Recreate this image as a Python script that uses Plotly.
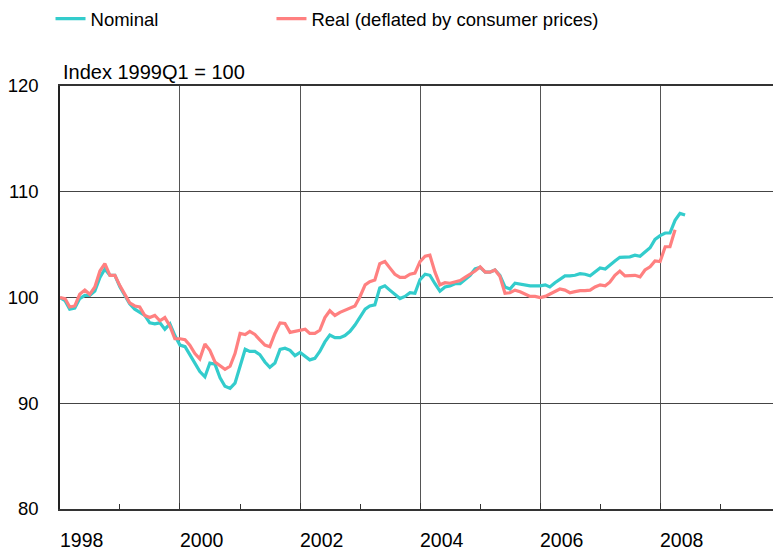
import plotly.graph_objects as go
import pandas as pd

# Monthly data, starting January 1998
start_month = "1998-01-01"

nominal = [
    100.0, 99.7, 98.9, 99.0, 99.9, 100.2, 100.2, 100.6, 101.9, 102.7, 102.1, 102.1,
    101.0, 100.2, 99.4, 98.9, 98.6, 98.3, 97.6, 97.5, 97.6, 97.0, 97.5, 96.4,
    95.5, 95.35, 94.6, 93.8, 93.0, 92.5, 93.8, 93.7, 92.4, 91.6, 91.4, 91.9,
    93.6, 95.1, 94.9, 94.9, 94.6, 93.9, 93.4, 93.8, 95.1, 95.2, 95.0, 94.5,
    94.8, 94.4, 94.1, 94.25, 94.9, 95.8, 96.45, 96.2, 96.2, 96.4, 96.8, 97.4,
    98.2, 98.9, 99.2, 99.3, 100.9, 101.1, 100.7, 100.3, 99.9, 100.1, 100.45, 100.4,
    101.7, 102.2, 102.1, 101.3, 100.6, 101.0, 101.1, 101.3, 101.3, 101.7, 102.1, 102.7,
    102.85, 102.4, 102.4, 102.6, 102.1, 101.0, 100.8, 101.35, 101.25, 101.2, 101.1, 101.1,
    101.1, 101.2, 101.0, 101.4, 101.75, 102.05, 102.05, 102.1, 102.25, 102.2, 102.05, 102.4,
    102.8, 102.7, 103.1, 103.45, 103.8, 103.8, 103.85, 104.0, 103.9, 104.3, 104.7, 105.5,
    105.85, 106.1, 106.1, 107.3, 107.95, 107.8,
]

real = [
    100.0, 99.9, 99.1, 99.2, 100.3, 100.7, 100.3, 101.0, 102.5, 103.2, 102.1, 102.1,
    101.1, 100.2, 99.5, 99.2, 99.1, 98.3, 98.1, 98.3, 97.8, 98.1, 97.3, 96.1,
    96.1, 96.0, 95.5, 94.7, 94.2, 95.6, 95.0, 93.9, 93.5, 93.2, 93.5, 94.7,
    96.6, 96.5, 96.8, 96.5, 96.0, 95.5, 95.35, 96.6, 97.6, 97.55, 96.7, 96.8,
    96.9, 97.0, 96.6, 96.6, 96.9, 98.1, 98.75, 98.3, 98.6, 98.8, 99.0, 99.2,
    100.1, 101.2, 101.5, 101.65, 103.2, 103.4, 102.8, 102.2, 101.9, 101.9, 102.2, 102.3,
    103.4, 103.9, 104.0, 102.4, 101.2, 101.4, 101.35, 101.5, 101.6, 101.9, 102.2, 102.5,
    102.9, 102.4, 102.4, 102.6, 102.0, 100.4, 100.45, 100.7, 100.55, 100.3, 100.1, 100.1,
    100.0, 100.1, 100.3, 100.55, 100.8, 100.7, 100.45, 100.55, 100.65, 100.65, 100.7, 101.0,
    101.2, 101.1, 101.45, 102.1, 102.5, 102.05, 102.1, 102.1, 101.95, 102.6, 102.9, 103.45,
    103.4, 104.8, 104.8, 106.4,
]

year_labels = ["1998", "2000", "2002", "2004", "2006", "2008"]
minor_years = ["1999", "2001", "2003", "2005", "2007", "2009"]
y_ticks = [80, 90, 100, 110, 120]

series_names = ["Nominal", "Real (deflated by consumer prices)"]
colors = ["#33CCCC", "#FF8080"]

FONT = "Liberation Sans, Arial, sans-serif"

dates_nom = pd.date_range(start_month, periods=len(nominal), freq="MS")
dates_real = pd.date_range(start_month, periods=len(real), freq="MS")

fig = go.Figure()
fig.add_trace(go.Scatter(x=dates_nom, y=nominal, mode="lines", name=series_names[0],
                         line=dict(color=colors[0], width=3.2), legend="legend"))
fig.add_trace(go.Scatter(x=dates_real, y=real, mode="lines", name=series_names[1],
                         line=dict(color=colors[1], width=3.2), legend="legend2"))

for lab in year_labels:
    fig.add_annotation(x=f"{lab}-01-01", y=0, xref="x", yref="paper",
                       text=lab, showarrow=False, xanchor="left", yanchor="middle",
                       yshift=-31, xshift=-2, font=dict(size=19.5, color="black", family=FONT))

fig.add_annotation(x=0, y=1, xref="paper", yref="paper", text="Index 1999Q1 = 100",
                   showarrow=False, xanchor="left", yanchor="middle", yshift=14, xshift=1,
                   font=dict(size=20, color="black", family=FONT))

legend_common = dict(orientation="h", xanchor="left", y=1.158, yanchor="middle",
                     font=dict(size=18.5, family=FONT, color="black"),
                     bgcolor="rgba(0,0,0,0)", itemwidth=30)

fig.update_layout(
    width=773, height=550,
    margin=dict(l=60, r=0, t=86, b=41, autoexpand=False),
    paper_bgcolor="white", plot_bgcolor="white",
    font=dict(family=FONT, size=18, color="black"),
    showlegend=True,
    legend=dict(x=-0.0133, **legend_common),
    legend2=dict(x=0.2966, **legend_common),
    xaxis=dict(
        type="date",
        range=["1998-01-01", "2009-11-18"],
        tickvals=[f"{y}-01-01" for y in year_labels],
        showticklabels=False, automargin=False,
        ticks="inside", ticklen=6, tickcolor="#333",
        showgrid=True, gridcolor="#555", gridwidth=1.3,
        showline=True, linecolor="#333", linewidth=1.5, mirror=True,
        zeroline=False,
        minor=dict(tickvals=[f"{y}-01-01" for y in minor_years], ticks="inside",
                   ticklen=5, tickcolor="#333", showgrid=False),
    ),
    yaxis=dict(
        range=[80, 120], automargin=False,
        tickvals=y_ticks,
        ticks="", showgrid=True, gridcolor="#444", gridwidth=1.2,
        showline=True, linecolor="#222", linewidth=1.5, mirror=False,
        zeroline=False,
        tickfont=dict(size=18.5, family=FONT, color="black"),
        ticklabelstandoff=16,
    ),
)

fig.write_html(
    "out.html",
    config={"displayModeBar": False},
    post_script="document.body.style.margin='0';document.body.style.overflow='hidden';",
)
